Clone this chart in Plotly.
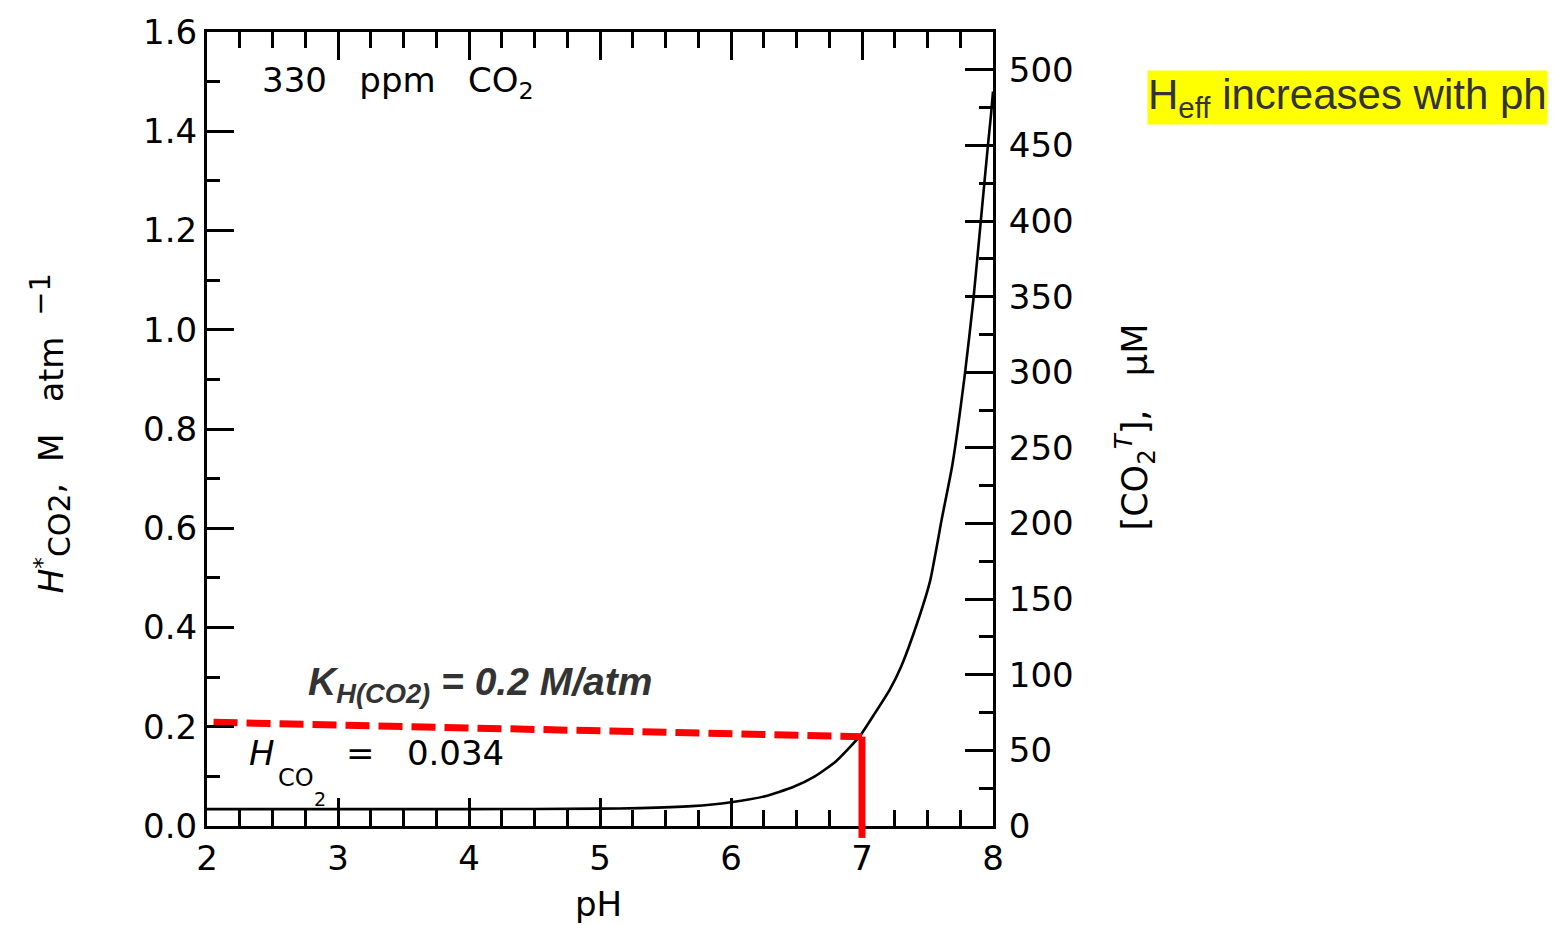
import plotly.graph_objects as go

# ---------------- data ----------------
PH = [2.0, 3.0, 4.0, 5.0, 5.3, 5.7, 6.0, 6.26, 6.47, 6.64, 6.8, 6.98, 7.1,
      7.21, 7.3, 7.42, 7.52, 7.61, 7.69, 7.785, 7.85, 7.905, 7.96, 7.985, 8.0]
H_STAR = [0.034, 0.034, 0.034, 0.035, 0.036, 0.040, 0.048, 0.060, 0.078,
          0.100, 0.130, 0.180, 0.228, 0.274, 0.322, 0.408, 0.494, 0.620,
          0.728, 0.910, 1.060, 1.214, 1.368, 1.434, 1.480]

DASH_PH = [2.05, 7.0]          # red dashed K_H line
DASH_H = [0.209, 0.180]
VLINE_PH = 7.0                 # red vertical marker at pH 7
VLINE_TOP = 0.180

X_RANGE = [2, 8]
Y_RANGE = [0, 1.6]
Y2_RANGE = [0, 525]
X_TICKS = [2, 3, 4, 5, 6, 7, 8]
Y_TICKS = [0.0, 0.2, 0.4, 0.6, 0.8, 1.0, 1.2, 1.4, 1.6]
Y2_TICKS = [0, 50, 100, 150, 200, 250, 300, 350, 400, 450, 500]

# ---------------- layout geometry ----------------
W, H = 1566, 925
L, R, T, B = 207, 573, 27, 99
PW = W - L - R
PH_ = H - T - B


def px(x):
    return (x - L) / PW


def py(y):
    return (H - B - y) / PH_


SCAN = "DejaVu Sans"
TXT = dict(family=SCAN, size=34, color="black")

fig = go.Figure()

fig.add_trace(go.Scatter(
    x=PH, y=H_STAR, mode="lines",
    line=dict(color="black", width=2.6, shape="spline", smoothing=0.5),
    showlegend=False, hoverinfo="skip"))

fig.add_trace(go.Scatter(
    x=DASH_PH, y=DASH_H, mode="lines",
    line=dict(color="#FF0000", width=7, dash="24px,9px"),
    showlegend=False, hoverinfo="skip"))

# invisible trace to activate the right axis
fig.add_trace(go.Scatter(x=[X_RANGE[0]], y=[Y2_RANGE[0]], yaxis="y2",
                         mode="markers", marker=dict(opacity=0),
                         showlegend=False, hoverinfo="skip"))

fig.add_shape(type="line", xref="x", yref="paper",
              x0=VLINE_PH, x1=VLINE_PH,
              y0=-0.015, y1=(VLINE_TOP - Y_RANGE[0]) / (Y_RANGE[1] - Y_RANGE[0]),
              line=dict(color="#FF0000", width=7), layer="above")

axis_common = dict(showgrid=False, zeroline=False, showline=True,
                   linecolor="black", linewidth=3, ticks="inside",
                   tickcolor="black", tickwidth=2.5, tickfont=TXT)

fig.update_layout(
    width=W, height=H,
    margin=dict(l=L, r=R, t=T, b=B, pad=0),
    paper_bgcolor="white", plot_bgcolor="white",
    xaxis=dict(range=X_RANGE, tickvals=X_TICKS, ticklen=28, mirror="ticks",
               minor=dict(dtick=0.25, ticklen=16, ticks="inside",
                          tickcolor="black", tickwidth=2.5, showgrid=False),
               **axis_common),
    yaxis=dict(range=Y_RANGE, tickvals=Y_TICKS, tickformat=".1f", ticklen=27,
               minor=dict(dtick=0.1, ticklen=13, ticks="inside",
                          tickcolor="black", tickwidth=2.5, showgrid=False),
               **axis_common),
    yaxis2=dict(range=Y2_RANGE, tickvals=Y2_TICKS, ticklen=28,
                overlaying="y", side="right", ticklabelstandoff=6,
                minor=dict(dtick=25, ticklen=14, ticks="inside",
                           tickcolor="black", tickwidth=2.5, showgrid=False),
                **axis_common),
)

NB = "\u00a0"
SP2 = NB * 2
SP3 = NB * 3
ann = []
# inside texts
ann.append(dict(x=px(260), y=py(78), xref="paper", yref="paper",
                text=f"330{SP3}ppm{SP3}CO<sub>2</sub>",
                xanchor="left", yanchor="middle", showarrow=False, font=TXT))
ann.append(dict(x=px(247), y=py(753), xref="paper", yref="paper",
                text="<i>H</i>", xanchor="left", yanchor="middle",
                showarrow=False, font=TXT))
ann.append(dict(x=px(276), y=py(778), xref="paper", yref="paper",
                text="CO", xanchor="left", yanchor="middle",
                showarrow=False, font=dict(family=SCAN, size=24, color="black")))
ann.append(dict(x=px(312), y=py(799), xref="paper", yref="paper",
                text="2", xanchor="left", yanchor="middle",
                showarrow=False, font=dict(family=SCAN, size=19, color="black")))
ann.append(dict(x=px(344), y=py(753), xref="paper", yref="paper",
                text=f"={SP3}0.034", xanchor="left", yanchor="middle",
                showarrow=False, font=TXT))
ann.append(dict(x=px(306), y=py(684), xref="paper", yref="paper",
                text="<b><i>K<sub>H(CO2)</sub> = 0.2 M/atm</i></b>",
                xanchor="left", yanchor="middle", showarrow=False,
                font=dict(family="Liberation Sans, Arial", size=39, color="#333333")))
# axis titles
ann.append(dict(x=px(598), y=py(904), xref="paper", yref="paper",
                text="pH", xanchor="center", yanchor="middle",
                showarrow=False, font=TXT))
ann.append(dict(x=px(50), y=py(431), xref="paper", yref="paper",
                text=(f"<i>H</i><sup>*</sup>"
                      f"<sub><span style='font-size:30px'>CO2</span></sub>,"
                      f"{SP2}M{SP3}atm{SP2}"
                      f"<sup><span style='font-size:29px'>−1</span></sup>"),
                textangle=-90, xanchor="center", yanchor="middle",
                showarrow=False, font=dict(family=SCAN, size=33, color="black")))
ann.append(dict(x=px(1135), y=py(425), xref="paper", yref="paper",
                text=f"[CO<sub>2</sub><sup><i>T</i></sup>],{SP3}μM",
                textangle=-90, xanchor="center", yanchor="middle",
                showarrow=False, font=dict(family=SCAN, size=35, color="black")))
# yellow note
ann.append(dict(x=px(1147), y=py(93), xref="paper", yref="paper",
                text="H<sub>eff</sub> increases with ph",
                xanchor="left", yanchor="middle", showarrow=False,
                bgcolor="#FFFF00", borderpad=0,
                font=dict(family="Liberation Sans, Arial", size=42, color="#333333")))

fig.update_layout(annotations=ann)

fig.write_html("out.html",
               config={"displayModeBar": False},
               post_script="document.body.style.margin='0px';")
